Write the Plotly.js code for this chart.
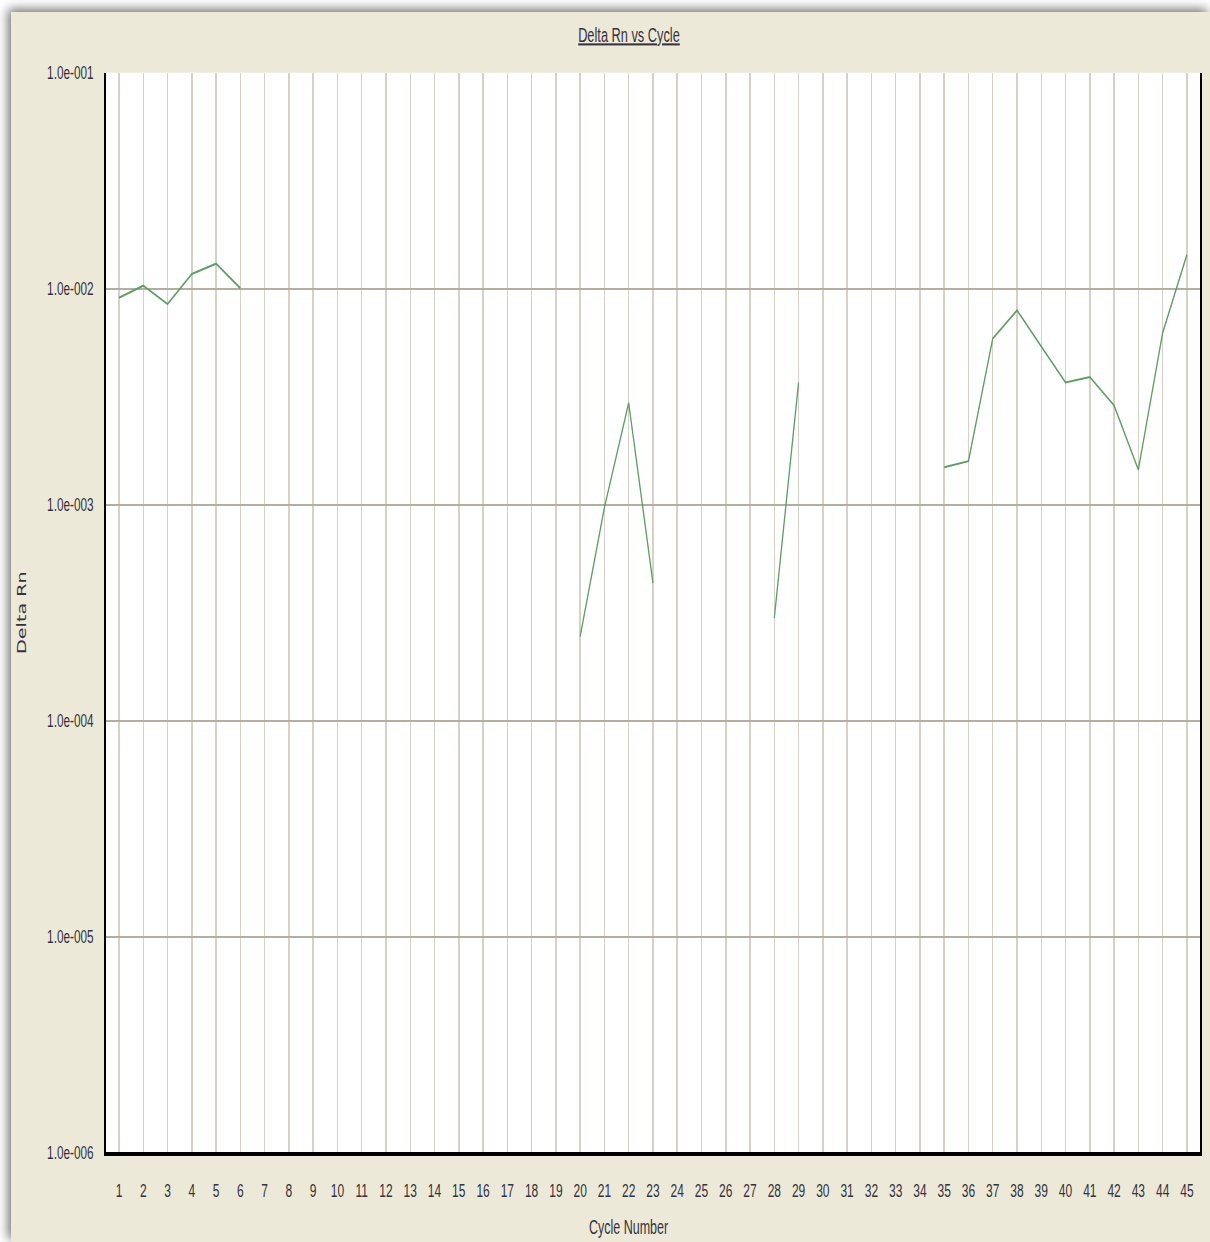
<!DOCTYPE html>
<html>
<head>
<meta charset="utf-8">
<script src="https://cdn.plot.ly/plotly-3.0.1.min.js"></script>
<style>
  html, body { margin: 0; padding: 0; background: #ffffff; overflow: hidden; }
  #frame {
    position: absolute; left: 11px; top: 12px;
    width: 1199px; height: 1230px;
    background: #ece9d8;
    box-shadow: -3px -3px 10px rgba(0,0,0,0.55);
    overflow: hidden;
  }
  #chart {
    width: 1199px; height: 769px;
    transform: scaleY(1.5995);
    transform-origin: 0 0;
  }
</style>
</head>
<body>
<div id="frame"><div id="chart"></div></div>
<script>
// Amplification curve: Delta Rn per PCR cycle (gaps where Delta Rn was not positive)
const cycles = [1, 2, 3, 4, 5, 6, 7, 8, 9, 10, 11, 12, 13, 14, 15, 16, 17, 18, 19, 20,
                21, 22, 23, 24, 25, 26, 27, 28, 29, 30, 31, 32, 33, 34, 35, 36, 37, 38, 39, 40,
                41, 42, 43, 44, 45];
const deltaRn = [0.00908, 0.01033, 0.00849, 0.0117, 0.01306, 0.01005,
                 null, null, null, null, null, null, null, null, null, null, null, null, null,
                 0.000245, 0.00097, 0.00296, 0.000434,
                 null, null, null, null,
                 0.000298, 0.00368,
                 null, null, null, null, null,
                 0.00149, 0.00159, 0.00587, 0.00794, 0.0054, 0.00368,
                 0.0039, 0.00288, 0.00145, 0.00624, 0.01435];

const yTickVals = [1e-6, 1e-5, 1e-4, 1e-3, 1e-2, 1e-1];
const yTickText = ['1.0e-006', '1.0e-005', '1.0e-004', '1.0e-003', '1.0e-002', '1.0e-001'];

const sansFamily = 'Liberation Sans, Arial, sans-serif';
const textColor = '#33333f';

const trace = {
  x: cycles,
  y: deltaRn,
  type: 'scatter',
  mode: 'lines',
  connectgaps: false,
  line: { color: '#5e9e64', width: 1.3 },
  hoverinfo: 'x+y'
};

const layout = {
  width: 1199,
  height: 769,
  paper_bgcolor: '#ece9d8',
  plot_bgcolor: '#ffffff',
  margin: { l: 95, r: 10, t: 38, b: 56 },
  showlegend: false,
  title: {
    text: 'Delta Rn vs Cycle',
    x: 0.5154, xref: 'container', xanchor: 'center',
    y: 0.9813, yref: 'container', yanchor: 'middle',
    font: { family: sansFamily, size: 12.8, color: textColor, lineposition: 'under' }
  },
  xaxis: {
    range: [0.464, 45.54],
    tickmode: 'array',
    tickvals: cycles,
    ticktext: cycles.map(String),
    ticks: 'outside', ticklen: 11, tickcolor: 'rgba(0,0,0,0)',
    tickfont: { family: sansFamily, size: 12, color: textColor },
    showgrid: true, gridcolor: '#d5d1c6', gridwidth: 1.5,
    showline: true, linecolor: '#000000', linewidth: 2.2,
    zeroline: false
  },
  yaxis: {
    type: 'log',
    range: [-6, -1],
    tickmode: 'array',
    tickvals: yTickVals,
    ticktext: yTickText,
    ticks: 'outside', ticklen: 8, tickcolor: 'rgba(0,0,0,0)',
    tickfont: { family: sansFamily, size: 11.8, color: textColor },
    showgrid: true, gridcolor: '#b3ae9f', gridwidth: 1.25,
    showline: true, linecolor: '#000000', linewidth: 2, mirror: true,
    zeroline: false,
    title: { text: 'Delta Rn', standoff: 18,
             font: { family: 'DejaVu Sans, Verdana, sans-serif', size: 12, color: textColor } }
  },
  annotations: [{
    text: 'Cycle Number',
    xref: 'paper', yref: 'paper',
    x: 0.478, y: -0.069,
    xanchor: 'center', yanchor: 'middle',
    showarrow: false,
    font: { family: sansFamily, size: 12.5, color: textColor }
  }]
};

Plotly.newPlot('chart', [trace], layout, { displayModeBar: false, staticPlot: true });
</script>
</body>
</html>
